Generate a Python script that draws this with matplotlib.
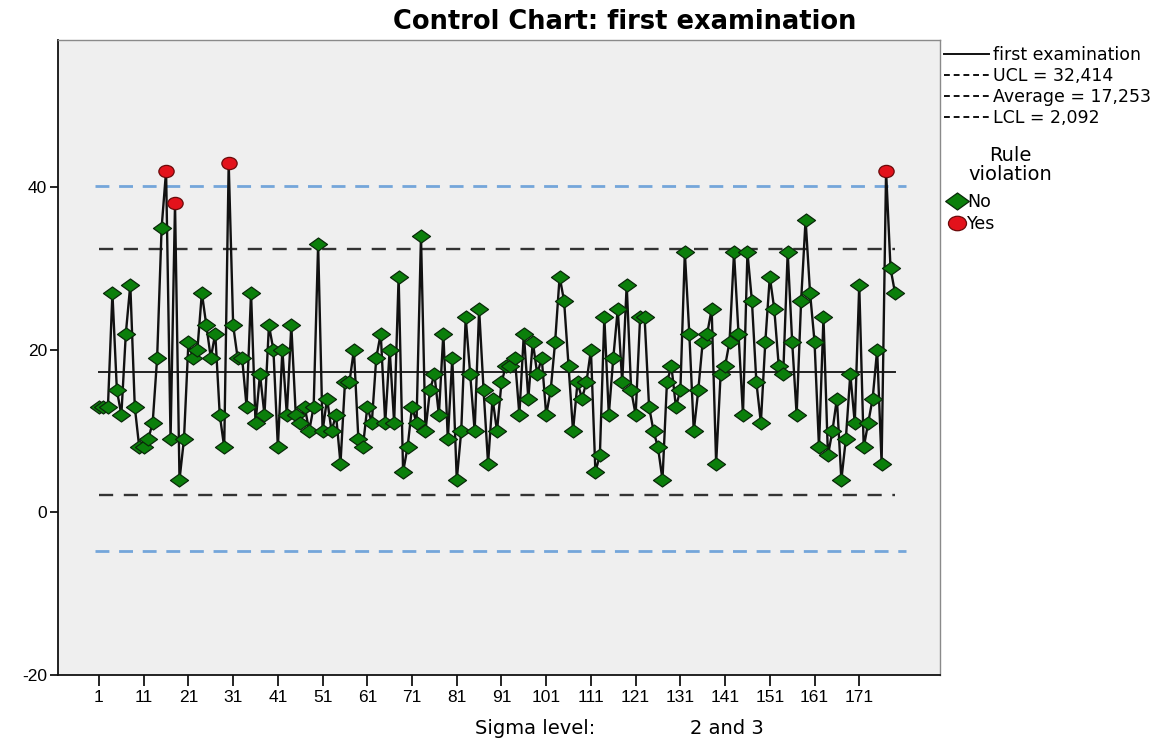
import matplotlib
matplotlib.use("Agg")
import numpy as np
import matplotlib.pyplot as plt
from matplotlib.path import Path
from matplotlib.lines import Line2D

plt.rcParams['font.family'] = ['DejaVu Sans']
plt.rcParams['axes.unicode_minus'] = False

# ---- data ----
values = [13, 13, 13, 27, 15, 12, 22, 28, 13, 8,
          8, 9, 11, 19, 35, 42, 9, 38, 4, 9,
          21, 19, 20, 27, 23, 19, 22, 12, 8, 43,
          23, 19, 19, 13, 27, 11, 17, 12, 23, 20,
          8, 20, 12, 23, 12, 11, 13, 10, 13, 33,
          10, 14, 10, 12, 6, 16, 16, 20, 9, 8,
          13, 11, 19, 22, 11, 20, 11, 29, 5, 8,
          13, 11, 34, 10, 15, 17, 12, 22, 9, 19,
          4, 10, 24, 17, 10, 25, 15, 6, 14, 10,
          16, 18, 18, 19, 12, 22, 14, 21, 17, 19,
          12, 15, 21, 29, 26, 18, 10, 16, 14, 16,
          20, 5, 7, 24, 12, 19, 25, 16, 28, 15,
          12, 24, 24, 13, 10, 8, 4, 16, 18, 13,
          15, 32, 22, 10, 15, 21, 22, 25, 6, 17,
          18, 21, 32, 22, 12, 32, 26, 16, 11, 21,
          29, 25, 18, 17, 32, 21, 12, 26, 36, 27,
          21, 8, 24, 7, 10, 14, 4, 9, 17, 11,
          28, 8, 11, 14, 20, 6, 42, 30, 27]
violation_ids = [16, 18, 30, 177]
ucl = 32.414
average = 17.253
lcl = 2.092
sigma3_upper = 40.2
sigma3_lower = -4.8
legend_labels = ["first examination", "UCL = 32,414", "Average = 17,253", "LCL = 2,092"]
violation_labels = ["No", "Yes"]
yticks = [-20, 0, 20, 40]

n = len(values)
ids = np.arange(1, n + 1)
vals = np.array(values, dtype=float)
viol = np.isin(ids, violation_ids)

# marker shapes
diamond = Path([(-1, 0), (0, 0.72), (1, 0), (0, -0.72), (-1, 0)],
               [Path.MOVETO, Path.LINETO, Path.LINETO, Path.LINETO, Path.CLOSEPOLY])
uc = Path.unit_circle()
ellipse = Path(uc.vertices * np.array([1.0, 0.8]), uc.codes)

green = '#0b7f0b'
red = '#e3121b'
tickfont = ['Liberation Sans', 'DejaVu Sans']

fig = plt.figure(figsize=(11.73, 7.42), dpi=100)
ax = fig.add_axes([58 / 1173, 1 - 675 / 742, (940 - 58) / 1173, (675 - 40) / 742])
ax.set_facecolor('#efefef')

# limit lines
ax.plot([0, n + 2.5], [sigma3_upper] * 2, color='#74a6da', lw=2.0, ls=(0, (5, 3.5)), zorder=1)
ax.plot([0, n + 2.5], [sigma3_lower] * 2, color='#74a6da', lw=2.0, ls=(0, (5, 3.5)), zorder=1)
ax.plot([1, n], [ucl] * 2, color='#333333', lw=1.7, ls=(0, (6, 4.5)), zorder=1)
ax.plot([1, n], [lcl] * 2, color='#333333', lw=1.7, ls=(0, (6, 4.5)), zorder=1)
ax.plot([1, n], [average] * 2, color='#222222', lw=1.4, zorder=1)

# series
ax.plot(ids, vals, color='#111111', lw=1.7, zorder=2)
ax.plot(ids[~viol], vals[~viol], ls='none', marker=diamond, ms=13,
        mfc=green, mec='#0a2a0a', mew=0.9, zorder=3)
ax.plot(ids[viol], vals[viol], ls='none', marker=ellipse, ms=11,
        mfc=red, mec='#6a0a0a', mew=0.9, zorder=4)

ax.set_xlim(1 - 41 / 4.472, 1 + (940 - 99) / 4.472)
ax.set_ylim(-20, 58.1)
ax.set_xticks(list(range(1, n + 1, 10)))
ax.set_yticks(yticks)
ax.tick_params(axis='x', length=8, width=1.2, pad=3, labelsize=12.5, direction='out')
ax.tick_params(axis='y', length=6, width=1.2, pad=2, labelsize=12.5, direction='out')
for lab in ax.get_xticklabels() + ax.get_yticklabels():
    lab.set_family(tickfont)
for s in ['left', 'bottom']:
    ax.spines[s].set_color('#111111')
    ax.spines[s].set_linewidth(1.3)
for s in ['top', 'right']:
    ax.spines[s].set_color('#8a8a8a')
    ax.spines[s].set_linewidth(1.0)

# title and axis label
fig.text(625 / 1173, 1 - 22 / 742, "Control Chart: first examination",
         ha='center', va='center', fontsize=18.5, fontweight='bold')
fig.text(475 / 1173, 1 - 729 / 742, "Sigma level:", ha='left', va='center', fontsize=14)
fig.text(690 / 1173, 1 - 729 / 742, "2 and 3", ha='left', va='center', fontsize=14)

# legends
line_handles = [Line2D([], [], color='#111111', lw=1.4),
                Line2D([], [], color='#111111', lw=1.4, ls=(0, (3, 2))),
                Line2D([], [], color='#111111', lw=1.4, ls=(0, (3, 2))),
                Line2D([], [], color='#111111', lw=1.4, ls=(0, (3, 2)))]
leg1 = fig.legend(line_handles, legend_labels, loc='upper left',
                  bbox_to_anchor=(944 / 1173, 1 - 46 / 742), frameon=False,
                  fontsize=12.5, handlelength=2.6, handletextpad=0.25,
                  labelspacing=0.17, borderpad=0, borderaxespad=0)
fig.text(1010 / 1173, 1 - 165 / 742, "Rule\nviolation", ha='center', va='center',
         fontsize=14, multialignment='center', linespacing=1.0)
marker_handles = [Line2D([], [], ls='none', marker=diamond, ms=17, mfc=green, mec='#0a2a0a', mew=0.9),
                  Line2D([], [], ls='none', marker=ellipse, ms=13, mfc=red, mec='#6a0a0a', mew=0.9)]
leg2 = fig.legend(marker_handles, violation_labels, loc='upper left',
                  bbox_to_anchor=(948 / 1173, 1 - 193 / 742), frameon=False,
                  fontsize=12.5, handlelength=1.0, handletextpad=0.1, labelspacing=0.25,
                  borderpad=0, borderaxespad=0)

fig.savefig("out.png", dpi=100)
